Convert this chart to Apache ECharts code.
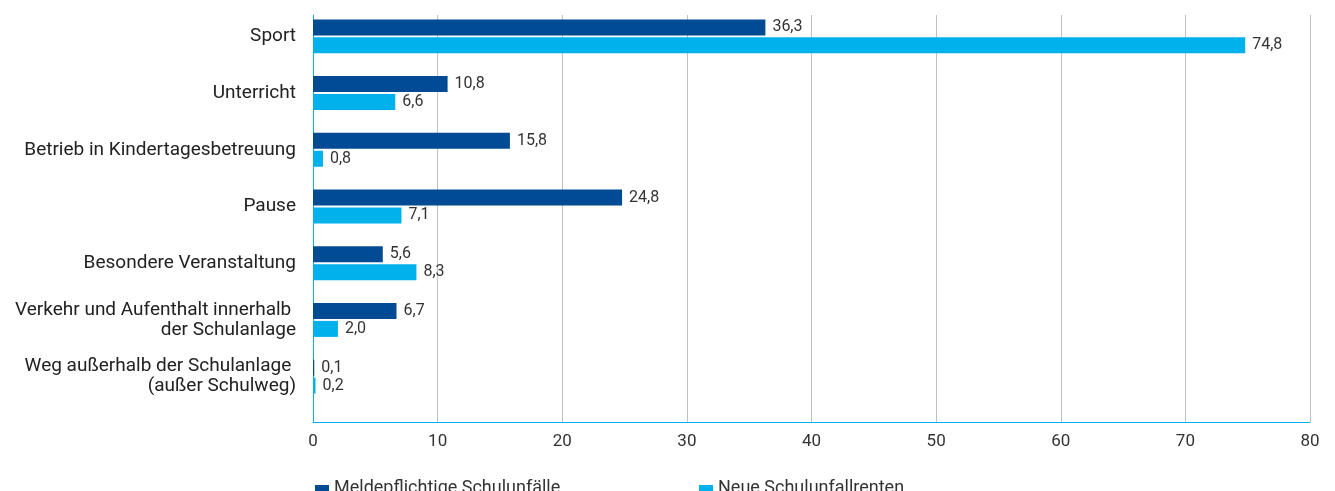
<!DOCTYPE html>
<html>
<head>
<meta charset="utf-8">
<script src="https://cdn.jsdelivr.net/npm/echarts@6/dist/echarts.min.js"></script>
<style>html,body{margin:0;padding:0;background:#fff}#c{width:1335px;height:491px}</style>
</head>
<body>
<div id="c"></div>
<script>
const categories = [
  'Sport',
  'Unterricht',
  'Betrieb in Kindertagesbetreuung',
  'Pause',
  'Besondere Veranstaltung',
  'Verkehr und Aufenthalt innerhalb \nder Schulanlage',
  'Weg außerhalb der Schulanlage \n(außer Schulweg)'
];
const seriesNames = ['Meldepflichtige Schulunfälle', 'Neue Schulunfallrenten'];
const meldepflichtige = [36.3, 10.8, 15.8, 24.8, 5.6, 6.7, 0.1];
const renten = [74.8, 6.6, 0.8, 7.1, 8.3, 2.0, 0.2];
const xMin = 0, xMax = 80, xInterval = 10;

const FONT = 'Roboto';
const DARK = '#004b93';
const LIGHT = '#00b1eb';
const fmt = p => p.value.toFixed(1).replace('.', ',');

const chart = echarts.init(document.getElementById('c'), null, {renderer: 'canvas'});
chart.setOption({
  animation: false,
  textStyle: {fontFamily: FONT},
  grid: [
    {left: 313, right: 25, top: 15, bottom: 69},
    {left: 313, right: 25, top: 8, bottom: 86}
  ],
  legend: [
    {data: [seriesNames[0]], left: 310, top: 474, icon: 'rect', itemWidth: 14, itemHeight: 6, itemGap: 5,
     textStyle: {fontFamily: FONT, fontSize: 18, color: '#333'}},
    {data: [seriesNames[1]], left: 694, top: 474, icon: 'rect', itemWidth: 14, itemHeight: 6, itemGap: 5,
     textStyle: {fontFamily: FONT, fontSize: 18, color: '#333'}}
  ],
  xAxis: [
    {type: 'value', gridIndex: 0, min: xMin, max: xMax, interval: xInterval,
     axisLine: {show: true, lineStyle: {color: LIGHT, width: 1}},
     axisTick: {show: false},
     axisLabel: {fontFamily: FONT, fontSize: 17, color: '#333', margin: 11},
     splitLine: {show: true, lineStyle: {color: '#c0c0c0', width: 1}}},
    {type: 'value', gridIndex: 1, min: xMin, max: xMax, show: false}
  ],
  yAxis: [
    {type: 'value', gridIndex: 0, min: 0, max: 1,
     axisLine: {show: true, lineStyle: {color: LIGHT, width: 1}},
     axisTick: {show: false}, axisLabel: {show: false}, splitLine: {show: false}},
    {type: 'category', gridIndex: 1, data: categories, inverse: true,
     axisLine: {show: false}, axisTick: {show: false}, splitLine: {show: false},
     axisLabel: {fontFamily: FONT, fontSize: 19, color: '#222', margin: 17, lineHeight: 20, align: 'right'}}
  ],
  series: [
    {name: seriesNames[0], type: 'bar', xAxisIndex: 1, yAxisIndex: 1, data: meldepflichtige,
     barWidth: 16, barGap: '12%', itemStyle: {color: DARK},
     label: {show: true, position: 'right', distance: 7, formatter: fmt, fontFamily: FONT, fontSize: 16, color: '#333'}},
    {name: seriesNames[1], type: 'bar', xAxisIndex: 1, yAxisIndex: 1, data: renten,
     barWidth: 16, barGap: '12%', itemStyle: {color: LIGHT},
     label: {show: true, position: 'right', distance: 7, formatter: fmt, fontFamily: FONT, fontSize: 16, color: '#333'}}
  ]
});
</script>
</body>
</html>
